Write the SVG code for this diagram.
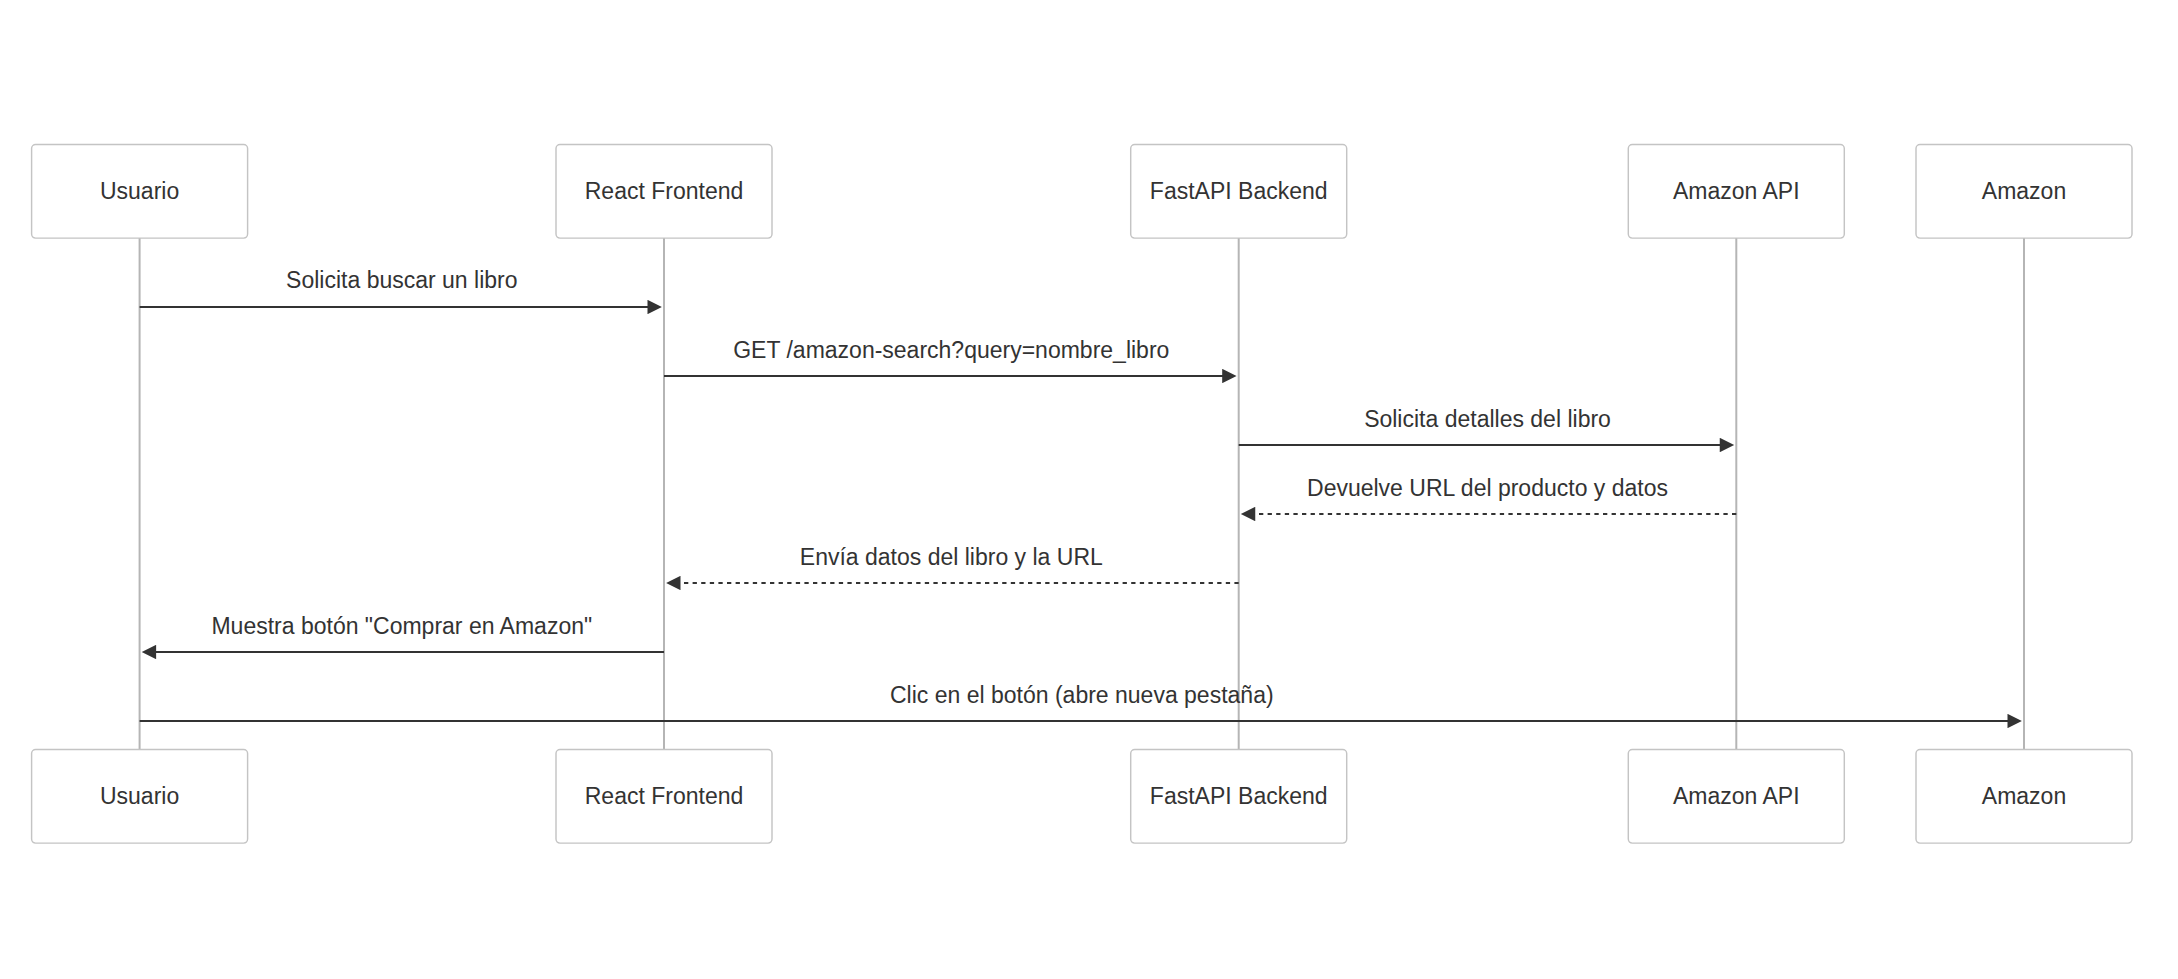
<svg xmlns="http://www.w3.org/2000/svg" width="2178" height="979" viewBox="0 0 2178 979">
<style>
.actor rect{fill:#ffffff;stroke:#c4c4c4;stroke-width:1.44}
.actor text,.msg-text{font-family:"Liberation Sans",Arial,sans-serif;font-size:23px;fill:#333333;text-anchor:middle}
.lifeline{stroke:#b5b5b5;stroke-width:2}
.msg{stroke:#333333;stroke-width:2;fill:none;marker-end:url(#arrow)}
.dashed{stroke-dasharray:4.3 4.3}
</style>
<defs>
<marker id="arrow" viewBox="0 0 10 10" markerUnits="userSpaceOnUse" markerWidth="15.5" markerHeight="14.4" refX="8" refY="5" orient="auto">
<path d="M0,0 L10,5 L0,10 z" fill="#333333"/>
</marker>
</defs>
<rect width="2178" height="979" fill="#ffffff"/>
<g id="lifelines">
<line class="lifeline" x1="139.6" y1="238" x2="139.6" y2="749.5"/>
<line class="lifeline" x1="664" y1="238" x2="664" y2="749.5"/>
<line class="lifeline" x1="1238.7" y1="238" x2="1238.7" y2="749.5"/>
<line class="lifeline" x1="1736.3" y1="238" x2="1736.3" y2="749.5"/>
<line class="lifeline" x1="2024" y1="238" x2="2024" y2="749.5"/>
</g>
<g id="usuario-top" class="actor"><rect x="31.6" y="144.5" width="216" height="93.6" rx="4"/><text x="139.6" y="199.3">Usuario</text></g>
<g id="react-top" class="actor"><rect x="556" y="144.5" width="216" height="93.6" rx="4"/><text x="664" y="199.3">React Frontend</text></g>
<g id="fastapi-top" class="actor"><rect x="1130.7" y="144.5" width="216" height="93.6" rx="4"/><text x="1238.7" y="199.3">FastAPI Backend</text></g>
<g id="amazonapi-top" class="actor"><rect x="1628.3" y="144.5" width="216" height="93.6" rx="4"/><text x="1736.3" y="199.3">Amazon API</text></g>
<g id="amazon-top" class="actor"><rect x="1916" y="144.5" width="216" height="93.6" rx="4"/><text x="2024" y="199.3">Amazon</text></g>
<g id="connectors">
<line class="msg" x1="139.6" y1="307" x2="659" y2="307"/>
<text class="msg-text" x="401.8" y="288.3">Solicita buscar un libro</text>
<line class="msg" x1="664" y1="376" x2="1233.7" y2="376"/>
<text class="msg-text" x="951.3" y="357.5">GET /amazon-search?query=nombre_libro</text>
<line class="msg" x1="1238.7" y1="445" x2="1731.3" y2="445"/>
<text class="msg-text" x="1487.5" y="426.5">Solicita detalles del libro</text>
<line class="msg dashed" x1="1736.3" y1="514" x2="1243.7" y2="514"/>
<text class="msg-text" x="1487.5" y="495.5">Devuelve URL del producto y datos</text>
<line class="msg dashed" x1="1238.7" y1="583" x2="669" y2="583"/>
<text class="msg-text" x="951.3" y="564.5">Envía datos del libro y la URL</text>
<line class="msg" x1="664" y1="652" x2="144.6" y2="652"/>
<text class="msg-text" x="401.8" y="633.5">Muestra botón "Comprar en Amazon"</text>
<line class="msg" x1="139.6" y1="721" x2="2019" y2="721"/>
<text class="msg-text" x="1081.8" y="702.5">Clic en el botón (abre nueva pestaña)</text>
</g>
<g id="usuario-bottom" class="actor"><rect x="31.6" y="749.5" width="216" height="93.6" rx="4"/><text x="139.6" y="804.3">Usuario</text></g>
<g id="react-bottom" class="actor"><rect x="556" y="749.5" width="216" height="93.6" rx="4"/><text x="664" y="804.3">React Frontend</text></g>
<g id="fastapi-bottom" class="actor"><rect x="1130.7" y="749.5" width="216" height="93.6" rx="4"/><text x="1238.7" y="804.3">FastAPI Backend</text></g>
<g id="amazonapi-bottom" class="actor"><rect x="1628.3" y="749.5" width="216" height="93.6" rx="4"/><text x="1736.3" y="804.3">Amazon API</text></g>
<g id="amazon-bottom" class="actor"><rect x="1916" y="749.5" width="216" height="93.6" rx="4"/><text x="2024" y="804.3">Amazon</text></g>
</svg>
